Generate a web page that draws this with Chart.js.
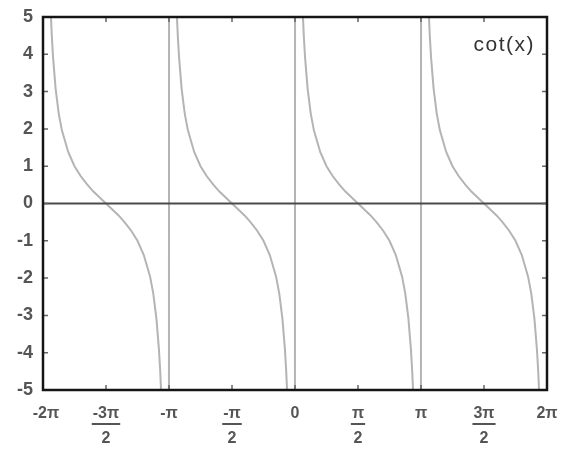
<!DOCTYPE html>
<html>
<head>
<meta charset="utf-8">
<script src="https://cdn.jsdelivr.net/npm/chart.js@4/dist/chart.umd.min.js"></script>
<style>
  html, body { margin: 0; padding: 0; background: #fff; }
  #wrap { width: 564px; height: 455px; }
</style>
</head>
<body>
<div id="wrap"><canvas id="c" width="564" height="455"></canvas></div>
<script>
// ---- data (x in units of pi) ----
const branchStarts = [-2, -1, 0, 1];
const branchOffsets = [0.005, 0.01, 0.02, 0.03, 0.04, 0.05, 0.06, 0.07, 0.08, 0.1, 0.125, 0.15, 0.2, 0.25, 0.3, 0.35, 0.4, 0.45, 0.5,
  0.55, 0.6, 0.65, 0.7, 0.75, 0.8, 0.85, 0.875, 0.9, 0.92, 0.93, 0.94, 0.95, 0.96, 0.97, 0.98, 0.99, 0.995];
const branchValues = [63.66, 31.82, 15.89, 10.58, 7.92, 6.31, 5.24, 4.48, 3.91, 3.08, 2.41, 1.96, 1.38, 1.0, 0.73, 0.51, 0.32, 0.16, 0,
  -0.16, -0.32, -0.51, -0.73, -1.0, -1.38, -1.96, -2.41, -3.08, -3.91, -4.48, -5.24, -6.31, -7.92, -10.58, -15.89, -31.82, -63.66];
const xTickPositions = [-2, -1.5, -1, -0.5, 0, 0.5, 1, 1.5, 2];
const xTickNumerators = ['-2π', '-3π', '-π', '-π', '0', 'π', 'π', '3π', '2π'];
const xTickDenominators = ['', '2', '', '2', '', '2', '', '2', ''];
const yTickValues = [-5, -4, -3, -2, -1, 0, 1, 2, 3, 4, 5];
const seriesLabel = 'cot(x)';

const PI = Math.PI;
const curve = [];
branchStarts.forEach(b => {
  branchOffsets.forEach((o, i) => curve.push({ x: (b + o) * PI, y: branchValues[i] }));
});
const zeroLine = [{ x: -2 * PI, y: 0 }, { x: 2 * PI, y: 0 }];

const decor = {
  id: 'decor',
  afterDatasetsDraw(chart) {
    const { ctx, chartArea: a, scales: { x, y } } = chart;
    ctx.save();
    // inner ticks
    ctx.strokeStyle = '#666';
    ctx.lineWidth = 1.5;
    yTickValues.forEach(v => {
      const py = y.getPixelForValue(v);
      ctx.beginPath();
      ctx.moveTo(a.left, py); ctx.lineTo(a.left + 5, py);
      ctx.moveTo(a.right, py); ctx.lineTo(a.right - 5, py);
      ctx.stroke();
    });
    xTickPositions.forEach(v => {
      const px = x.getPixelForValue(v * PI);
      ctx.beginPath();
      ctx.moveTo(px, a.bottom); ctx.lineTo(px, a.bottom - 5);
      ctx.moveTo(px, a.top); ctx.lineTo(px, a.top + 5);
      ctx.stroke();
    });
    // frame
    ctx.strokeStyle = '#151515';
    ctx.lineWidth = 2.5;
    ctx.strokeRect(a.left, a.top, a.right - a.left, a.bottom - a.top);
    // x tick labels
    ctx.fillStyle = '#555';
    ctx.strokeStyle = '#555';
    ctx.textAlign = 'center';
    ctx.textBaseline = 'middle';
    ctx.font = 'bold 16px "Liberation Sans", Arial, sans-serif';
    xTickPositions.forEach((v, i) => {
      const px = x.getPixelForValue(v * PI) + (i === 0 ? 3 : 0);
      const ny = a.bottom + 24;
      ctx.fillText(xTickNumerators[i], px, ny);
      if (xTickDenominators[i]) {
        const w = ctx.measureText(xTickNumerators[i]).width;
        ctx.lineWidth = 2;
        ctx.beginPath();
        ctx.moveTo(px - w / 2 - 1, ny + 10); ctx.lineTo(px + w / 2 + 1, ny + 10);
        ctx.stroke();
        ctx.fillText(xTickDenominators[i], px, ny + 25);
      }
    });
    // legend text
    ctx.fillStyle = '#333';
    ctx.textAlign = 'right';
    ctx.font = '21px "Liberation Sans", Arial, sans-serif';
    try { ctx.letterSpacing = '1.5px'; } catch (e) {}
    ctx.fillText(seriesLabel, a.right - 12, a.top + 28);
    ctx.restore();
  }
};

new Chart(document.getElementById('c'), {
  type: 'line',
  data: {
    datasets: [
      { label: seriesLabel, data: curve, borderColor: '#b4b4b4', borderWidth: 2, pointRadius: 0, tension: 0, order: 2 },
      { label: 'zero', data: zeroLine, borderColor: '#4a4a4a', borderWidth: 2, pointRadius: 0, tension: 0, order: 1 }
    ]
  },
  options: {
    responsive: false,
    animation: false,
    layout: { padding: { top: 17, right: 17, left: 0, bottom: 0 } },
    plugins: { legend: { display: false }, tooltip: { enabled: false } },
    scales: {
      x: {
        type: 'linear', min: -2 * PI, max: 2 * PI,
        grid: { display: false, drawTicks: false },
        border: { display: false },
        ticks: { display: false },
        afterFit(s) { s.height = 65; s.paddingLeft = 0; s.paddingRight = 0; }
      },
      y: {
        min: -5, max: 5,
        grid: { display: false, drawTicks: false },
        border: { display: false },
        ticks: {
          stepSize: 1, padding: 10, color: '#555',
          font: { family: '"Liberation Sans", Arial, sans-serif', size: 18, weight: 'bold' }
        },
        afterFit(s) { s.width = 43; s.paddingTop = 0; s.paddingBottom = 0; }
      }
    }
  },
  plugins: [decor]
});
</script>
</body>
</html>
